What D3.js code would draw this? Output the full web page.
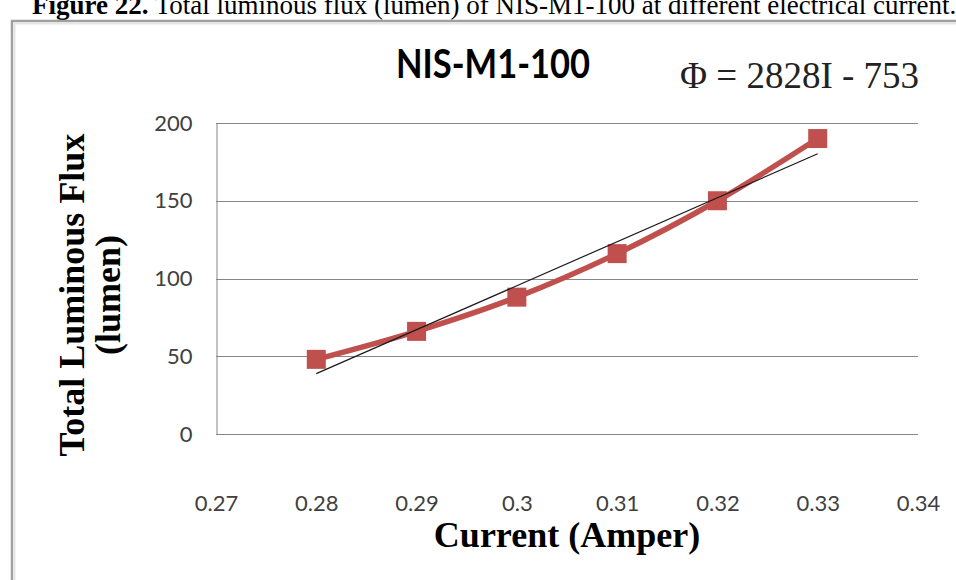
<!DOCTYPE html>
<html>
<head>
<meta charset="utf-8">
<script src="https://cdn.jsdelivr.net/npm/d3@7"></script>
<style>
  html, body { margin: 0; padding: 0; background: #fff; }
  svg { display: block; }
</style>
</head>
<body>
<svg id="chart" width="956" height="580"></svg>
<script>
// ---- data ----
const currents = [0.28, 0.29, 0.30, 0.31, 0.32, 0.33];
const flux = [48, 66, 88, 116, 150, 190];
const trendX = [0.28, 0.33];
const trendY = [38.8, 180.2];
const xTicks = [0.27, 0.28, 0.29, 0.30, 0.31, 0.32, 0.33, 0.34];
const xTickLabels = ["0.27", "0.28", "0.29", "0.3", "0.31", "0.32", "0.33", "0.34"];
const yTicks = [0, 50, 100, 150, 200];
const chartTitle = "NIS-M1-100";
const equation = "Φ = 2828I - 753";
const captionBold = "Figure 22.";
const captionRest = " Total luminous flux (lumen) of NIS-M1-100 at different electrical current.";
const xTitle = "Current (Amper)";
const yTitle1 = "Total Luminous Flux";
const yTitle2 = "(lumen)";

// ---- layout ----
const svg = d3.select("#chart");
const plot = { left: 216, right: 918, top: 123, bottom: 434 };
const x = d3.scaleLinear().domain([0.27, 0.34]).range([plot.left, plot.right]);
const y = d3.scaleLinear().domain([0, 200]).range([plot.bottom, plot.top]);
const red = "#C0504D";
const serif = "'Liberation Serif', 'Times New Roman', serif";
const sans = "Lato, 'Liberation Sans', sans-serif";

// caption (cut at top, as in the reference)
const cap = svg.append("text")
  .attr("x", 32).attr("y", 14)
  .attr("font-family", serif).attr("font-size", 27).attr("fill", "#000");
cap.append("tspan").attr("font-weight", "bold").text(captionBold);
cap.append("tspan").text(captionRest);

// chart frame
svg.append("path")
  .attr("d", `M12,600 L12,21 L960,21`)
  .attr("fill", "none").attr("stroke", "#a0a0a0").attr("stroke-width", 2.5);
svg.append("path")
  .attr("d", `M14.5,600 L14.5,23.5 L960,23.5`)
  .attr("fill", "none").attr("stroke", "#e6e6e6").attr("stroke-width", 2);

// gridlines
svg.append("g").selectAll("line").data(yTicks).join("line")
  .attr("x1", plot.left).attr("x2", plot.right)
  .attr("y1", d => Math.round(y(d)) + 0.5).attr("y2", d => Math.round(y(d)) + 0.5)
  .attr("stroke", "#868686").attr("stroke-width", 1);

// y axis
const yAxis = d3.axisLeft(y).tickValues(yTicks).tickSize(0).tickPadding(24);
const gy = svg.append("g").attr("transform", `translate(${plot.left + 0.5},0)`).call(yAxis);
gy.select(".domain").attr("stroke", "#868686");
gy.selectAll("text").attr("font-family", sans).attr("font-size", 22).attr("fill", "#404040");

// x axis (labels only)
const xAxis = d3.axisBottom(x).tickValues(xTicks).tickSize(0).tickPadding(61)
  .tickFormat((d, i) => xTickLabels[i]);
const gx = svg.append("g").attr("transform", `translate(0,${plot.bottom})`).call(xAxis);
gx.select(".domain").remove();
gx.selectAll("text").attr("font-family", sans).attr("font-size", 22).attr("fill", "#404040");

// series line
const pts = currents.map((c, i) => [c, flux[i]]);
const line = d3.line().x(d => x(d[0])).y(d => y(d[1])).curve(d3.curveMonotoneX);
svg.append("path").datum(pts).attr("d", line)
  .attr("fill", "none").attr("stroke", red).attr("stroke-width", 5.5)
  .attr("stroke-linejoin", "round");

// markers
const ms = 19;
svg.append("g").selectAll("rect").data(pts).join("rect")
  .attr("x", d => x(d[0]) - ms / 2).attr("y", d => y(d[1]) - ms / 2)
  .attr("width", ms).attr("height", ms).attr("fill", red);

// trendline
const tpts = trendX.map((c, i) => [c, trendY[i]]);
svg.append("path").datum(tpts).attr("d", d3.line().x(d => x(d[0])).y(d => y(d[1])))
  .attr("fill", "none").attr("stroke", "#1b1b1b").attr("stroke-width", 1.2);

// title
svg.append("text").attr("x", 493).attr("y", 78).attr("text-anchor", "middle")
  .attr("font-family", "Lato, 'Liberation Sans Narrow', sans-serif").attr("font-weight", "bold")
  .attr("font-size", 40).attr("fill", "#000")
  .attr("textLength", 194).attr("lengthAdjust", "spacingAndGlyphs")
  .text(chartTitle);

// equation
svg.append("text").attr("x", 680).attr("y", 88)
  .attr("font-family", serif).attr("font-size", 37).attr("fill", "#222")
  .text(equation);

// x title
svg.append("text").attr("x", 567).attr("y", 547).attr("text-anchor", "middle")
  .attr("font-family", serif).attr("font-weight", "bold").attr("font-size", 36).attr("fill", "#000")
  .text(xTitle);

// y title
const yt = svg.append("text").attr("transform", "translate(0,295) rotate(-90)")
  .attr("text-anchor", "middle")
  .attr("font-family", serif).attr("font-weight", "bold").attr("font-size", 36).attr("fill", "#000");
yt.append("tspan").attr("x", 0).attr("y", 84).text(yTitle1);
yt.append("tspan").attr("x", 0).attr("y", 120).text(yTitle2);
</script>
</body>
</html>
